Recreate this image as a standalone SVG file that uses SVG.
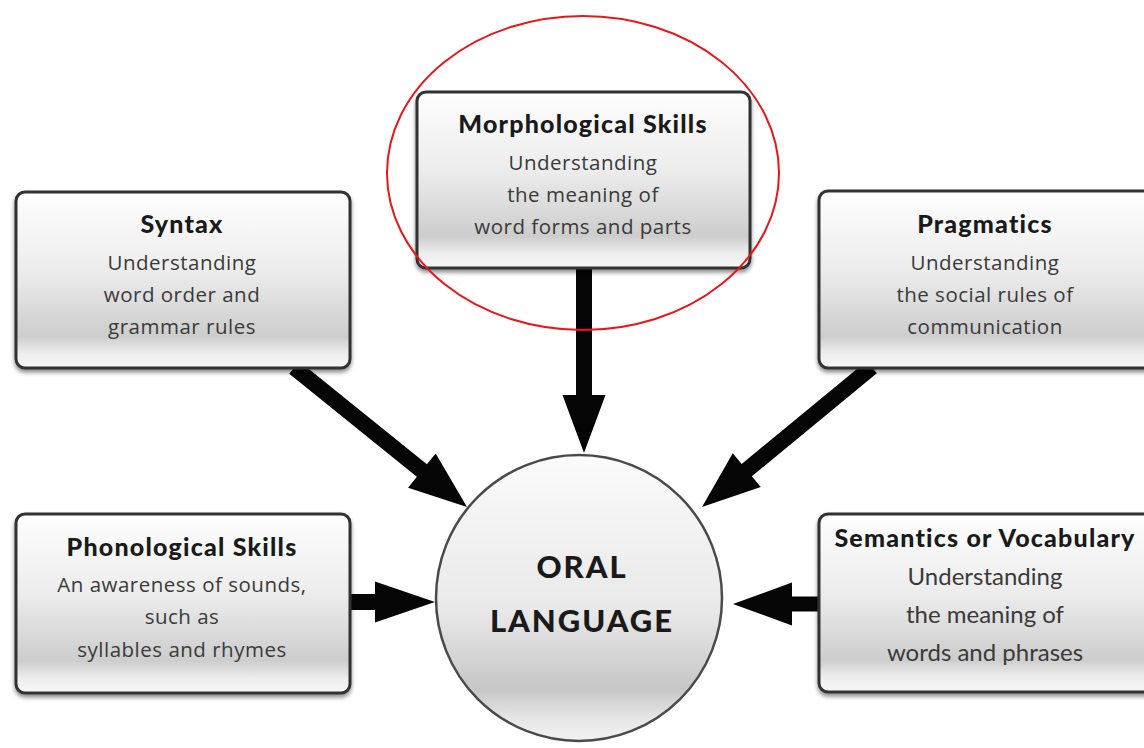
<svg xmlns="http://www.w3.org/2000/svg" width="1144" height="748" viewBox="0 0 1144 748">
<defs>
<linearGradient id="boxGrad" x1="0" y1="0" x2="0" y2="1">
<stop offset="0" stop-color="#fefefe"/>
<stop offset="0.45" stop-color="#ececec"/>
<stop offset="0.82" stop-color="#cdcdcd"/>
<stop offset="0.92" stop-color="#eeeeee"/>
<stop offset="1" stop-color="#f7f7f7"/>
</linearGradient>
<linearGradient id="circGrad" x1="0" y1="0" x2="0" y2="1">
<stop offset="0" stop-color="#fbfbfb"/>
<stop offset="0.55" stop-color="#e8e8e8"/>
<stop offset="0.82" stop-color="#c6c6c6"/>
<stop offset="0.92" stop-color="#e6e6e6"/>
<stop offset="1" stop-color="#f2f2f2"/>
</linearGradient>
<filter id="shadow" x="-10%" y="-10%" width="120%" height="130%">
<feDropShadow dx="0" dy="3" stdDeviation="2" flood-color="#000" flood-opacity="0.45"/>
</filter>
</defs>
<style>
.box { fill: url(#boxGrad); stroke: #333; stroke-width: 3; filter: url(#shadow); }
.circ { fill: url(#circGrad); stroke: #4a4a4a; stroke-width: 2.5; }
.title { font-family: "Lato", "Open Sans", sans-serif; font-weight: 900; font-size: 25px; letter-spacing: 1.2px; fill: #1a1a1a; text-anchor: middle; }
.body { font-family: "Open Sans", "Lato", sans-serif; font-size: 20.5px; letter-spacing: 0.5px; fill: #3a3a3a; text-anchor: middle; }
.body2 { font-family: "Lato", "Open Sans", sans-serif; font-size: 24px; fill: #3a3a3a; text-anchor: middle; }
.big { font-family: "Lato", "Liberation Sans", sans-serif; font-weight: 900; font-size: 31px; letter-spacing: 2px; fill: #1a1a1a; text-anchor: middle; }
.arrow { fill: #050505; }
</style>
<rect width="1144" height="748" fill="#ffffff"/>

<g id="connectors">
<path class="arrow" transform="translate(584,453) rotate(90)" d="M0,0 L-58,-21.5 L-58,-8 L-185,-8 L-185,8 L-58,8 L-58,21.5 Z"/>
<path class="arrow" transform="translate(467,507) rotate(38.9)" d="M0,0 L-58,-22 L-58,-8 L-222,-8 L-222,8 L-58,8 L-58,22 Z"/>
<path class="arrow" transform="translate(702,507) rotate(140.5)" d="M0,0 L-58,-22 L-58,-8 L-220,-8 L-220,8 L-58,8 L-58,22 Z"/>
<path class="arrow" transform="translate(435,602) rotate(0)" d="M0,0 L-60,-20.5 L-60,-8 L-87,-8 L-87,8 L-60,8 L-60,20.5 Z"/>
<path class="arrow" transform="translate(733,604) rotate(180)" d="M0,0 L-59,-21.5 L-59,-7.5 L-88,-7.5 L-88,7.5 L-59,7.5 L-59,21.5 Z"/>
</g>

<g id="node-morphological">
<rect class="box" x="417" y="92" width="333" height="176" rx="9"/>
<text class="title" x="583" y="133">Morphological Skills</text>
<text class="body" x="583" y="170">Understanding</text>
<text class="body" x="583" y="202">the meaning of</text>
<text class="body" x="583" y="234">word forms and parts</text>
</g>

<g id="node-syntax">
<rect class="box" x="16" y="192" width="334" height="176" rx="9"/>
<text class="title" x="182" y="233">Syntax</text>
<text class="body" x="182" y="270">Understanding</text>
<text class="body" x="182" y="302">word order and</text>
<text class="body" x="182" y="334">grammar rules</text>
</g>

<g id="node-pragmatics">
<rect class="box" x="819" y="191" width="345" height="177" rx="9"/>
<text class="title" x="985" y="233">Pragmatics</text>
<text class="body" x="985" y="270">Understanding</text>
<text class="body" x="985" y="302">the social rules of</text>
<text class="body" x="985" y="334">communication</text>
</g>

<g id="node-phonological">
<rect class="box" x="16" y="514" width="334" height="179" rx="9"/>
<text class="title" x="182" y="556">Phonological Skills</text>
<text class="body" x="182" y="592">An awareness of sounds,</text>
<text class="body" x="182" y="624">such as</text>
<text class="body" x="182" y="657">syllables and rhymes</text>
</g>

<g id="node-semantics">
<rect class="box" x="819" y="514" width="345" height="178" rx="9"/>
<text class="title" x="985" y="547">Semantics or Vocabulary</text>
<text class="body2" x="985" y="585">Understanding</text>
<text class="body2" x="985" y="623">the meaning of</text>
<text class="body2" x="985" y="661">words and phrases</text>
</g>

<g id="node-oral-language">
<circle class="circ" cx="579" cy="598" r="143"/>
<text class="big" x="582" y="578">ORAL</text>
<text class="big" x="582" y="632">LANGUAGE</text>
</g>

<g id="highlight">
<ellipse cx="583" cy="173" rx="196" ry="157" fill="none" stroke="#e8161b" stroke-width="2"/>
</g>
</svg>
